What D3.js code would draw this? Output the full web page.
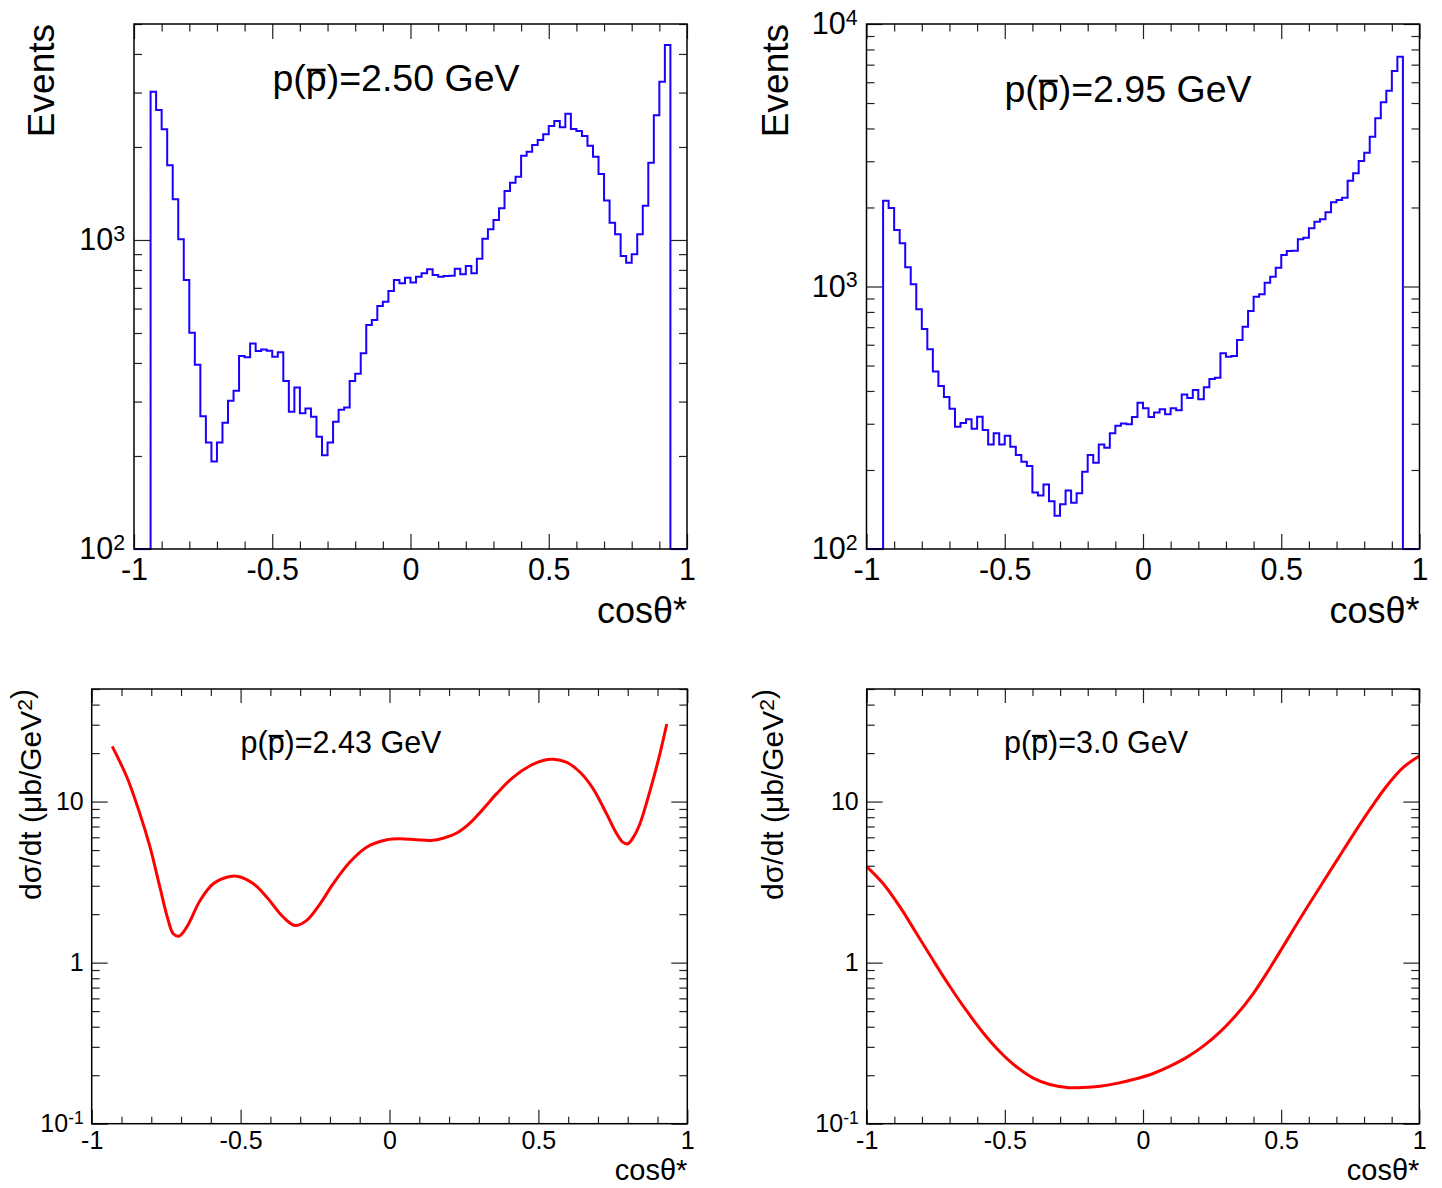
<!DOCTYPE html>
<html>
<head>
<meta charset="utf-8">
<script src="https://cdn.jsdelivr.net/npm/d3@7"></script>
<style>
  body { margin: 0; background: #fff; }
  svg text { font-family: "Liberation Sans", Arial, Helvetica, sans-serif; fill: #000; }
</style>
</head>
<body>
<svg id="chart" width="1442" height="1188"></svg>
<script>
// histogram binning used by both event plots
const nBins = 100;
const binRange = [-1, 1];

// events per bin, p = 2.50 GeV (bins -1 .. 1, step 0.02)
const counts250 = [
  0, 0, 0,
  3020, 2634, 2282, 1744, 1354, 1005, 742, 501, 395, 269,
  221, 192, 221, 256, 302, 325, 421, 417, 462, 437,
  442, 438, 419, 433, 350, 278, 333, 275, 285, 268,
  231, 201, 221, 258, 282, 287, 350, 369, 430, 531,
  551, 611, 631, 684, 742, 724, 755, 728, 761, 780,
  804, 770, 761, 765, 766, 807, 774, 824, 780, 870,
  1010, 1083, 1161, 1267, 1441, 1532, 1603, 1874, 1931, 2030,
  2107, 2198, 2338, 2428, 2315, 2563, 2287, 2253, 2171, 2020,
  1860, 1635, 1341, 1138, 1043, 888, 844, 899, 1043, 1291,
  1779, 2533, 3253, 4276,
  0, 0, 0
];

// events per bin, p = 2.95 GeV
const counts295 = [
  0, 0, 0,
  2123, 1991, 1641, 1461, 1184, 1020, 819, 689, 577, 474,
  418, 379, 342, 292, 302, 312, 287, 319, 284, 250,
  276, 250, 270, 245, 228, 215, 207, 164, 160, 176,
  152, 134, 148, 167, 150, 163, 197, 228, 213, 250,
  243, 276, 295, 301, 299, 318, 361, 344, 318, 331,
  341, 326, 344, 338, 388, 376, 403, 372, 413, 444,
  449, 557, 540, 544, 626, 703, 807, 915, 934, 1034,
  1090, 1179, 1318, 1365, 1369, 1513, 1534, 1666, 1766, 1803,
  1917, 2094, 2136, 2179, 2530, 2699, 3007, 3234, 3721, 4373,
  5031, 5570, 6622, 7506,
  0, 0, 0
];

// d(sigma)/dt curves: [cos theta*, value in mub/GeV^2]
const xsec243 = [
  [-0.931, 22.0], [-0.882, 14.2], [-0.838, 8.39], [-0.804, 5.21], [-0.771, 2.94],
  [-0.743, 1.83], [-0.726, 1.51], [-0.707, 1.46], [-0.681, 1.66], [-0.636, 2.43],
  [-0.592, 3.09], [-0.536, 3.43], [-0.508, 3.43], [-0.457, 3.09], [-0.412, 2.55],
  [-0.357, 1.92], [-0.317, 1.70], [-0.278, 1.83], [-0.233, 2.32], [-0.189, 3.09],
  [-0.133, 4.21], [-0.077, 5.21], [-0.009, 5.79], [0.035, 5.88], [0.09, 5.79],
  [0.14, 5.74], [0.18, 5.92], [0.226, 6.38], [0.270, 7.35], [0.315, 9.01],
  [0.360, 11.2], [0.416, 14.2], [0.472, 16.7], [0.516, 18.0], [0.550, 18.3],
  [0.595, 17.5], [0.640, 15.2], [0.684, 12.0], [0.729, 8.39], [0.763, 6.31],
  [0.783, 5.60], [0.800, 5.47], [0.819, 6.01], [0.841, 7.28], [0.875, 11.7],
  [0.908, 19.8], [0.931, 30.3]
];

const xsec300 = [
  [-1.0, 3.95], [-0.940, 3.09], [-0.879, 2.21], [-0.819, 1.51], [-0.759, 1.03],
  [-0.699, 0.711], [-0.638, 0.501], [-0.578, 0.366], [-0.518, 0.280], [-0.457, 0.225],
  [-0.397, 0.192], [-0.337, 0.175], [-0.276, 0.168], [-0.216, 0.168], [-0.156, 0.171],
  [-0.095, 0.178], [-0.035, 0.188], [0.037, 0.205], [0.098, 0.2275], [0.158, 0.258],
  [0.218, 0.303], [0.279, 0.372], [0.339, 0.476], [0.399, 0.643], [0.460, 0.93],
  [0.520, 1.37], [0.580, 2.02], [0.641, 2.96], [0.701, 4.30], [0.761, 6.24],
  [0.822, 8.97], [0.882, 12.5], [0.942, 16.3], [1.0, 19.2]
];

const xTicksMajor = [-1, -0.5, 0, 0.5, 1];
const xTicksMinor = [-0.9, -0.8, -0.7, -0.6, -0.4, -0.3, -0.2, -0.1, 0.1, 0.2, 0.3, 0.4, 0.6, 0.7, 0.8, 0.9];

const svg = d3.select("#chart");

function logTicks(domain) {
  const major = [], minor = [];
  const k0 = Math.floor(Math.log10(domain[0]) + 1e-9);
  const k1 = Math.ceil(Math.log10(domain[1]) - 1e-9);
  for (let k = k0; k <= k1; k++) {
    const dec = Math.pow(10, k);
    if (dec >= domain[0] * 0.999 && dec <= domain[1] * 1.001) major.push(dec);
    for (let m = 2; m <= 9; m++) {
      const v = m * dec;
      if (v > domain[0] && v < domain[1] * 1.001) minor.push(v);
    }
  }
  return { major, minor };
}

// "p(p)=..." with a bar over the second p
function overlineTitle(g, x, y, size, rest) {
  const t = g.append("text")
    .attr("x", x).attr("y", y)
    .attr("text-anchor", "middle")
    .attr("font-size", size)
    .text("p(p" + rest);
  const e = t.node().getExtentOfChar(2);
  g.append("line")
    .attr("x1", e.x + 1).attr("x2", e.x + e.width - 1)
    .attr("y1", y - 0.56 * size).attr("y2", y - 0.56 * size)
    .attr("stroke", "#000").attr("stroke-width", 0.07 * size);
}

function drawPanel(p) {
  const g = svg.append("g");
  const x = d3.scaleLinear().domain(binRange).range([p.x0, p.x1]);
  const y = d3.scaleLog().domain(p.yDomain).range([p.y1, p.y0]);
  const yt = logTicks(p.yDomain);

  // x axes, bottom with labels and top mirror
  g.append("g").attr("transform", `translate(0,${p.y1})`)
    .call(d3.axisBottom(x).tickValues(xTicksMajor).tickSize(-p.tx).tickPadding(p.xPad)
      .tickFormat(d => String(d)))
    .attr("font-size", p.tickFont).attr("font-family", null)
    .call(a => a.select(".domain").remove());
  g.append("g").attr("transform", `translate(0,${p.y1})`)
    .call(d3.axisBottom(x).tickValues(xTicksMinor).tickSize(-p.tx / 2).tickFormat(""))
    .call(a => a.select(".domain").remove());
  g.append("g").attr("transform", `translate(0,${p.y0})`)
    .call(d3.axisTop(x).tickValues(xTicksMajor).tickSize(-p.tx).tickFormat(""))
    .call(a => a.select(".domain").remove());
  g.append("g").attr("transform", `translate(0,${p.y0})`)
    .call(d3.axisTop(x).tickValues(xTicksMinor).tickSize(-p.tx / 2).tickFormat(""))
    .call(a => a.select(".domain").remove());

  // y axes, left with labels and right mirror
  const yl = g.append("g").attr("transform", `translate(${p.x0},0)`)
    .call(d3.axisLeft(y).tickValues(yt.major).tickSize(-p.ty).tickPadding(p.yPad))
    .attr("font-size", p.tickFont).attr("font-family", null)
    .call(a => a.select(".domain").remove());
  yl.selectAll(".tick text").each(function (d) {
    const t = d3.select(this).text(null);
    const [base, sup] = p.yFormat(d);
    t.append("tspan").text(base);
    if (sup) t.append("tspan").attr("dy", "-0.45em").attr("font-size", "0.7em").text(sup);
  });
  g.append("g").attr("transform", `translate(${p.x0},0)`)
    .call(d3.axisLeft(y).tickValues(yt.minor).tickSize(-p.ty / 2).tickFormat(""))
    .call(a => a.select(".domain").remove());
  g.append("g").attr("transform", `translate(${p.x1},0)`)
    .call(d3.axisRight(y).tickValues(yt.major).tickSize(-p.ty).tickFormat(""))
    .call(a => a.select(".domain").remove());
  g.append("g").attr("transform", `translate(${p.x1},0)`)
    .call(d3.axisRight(y).tickValues(yt.minor).tickSize(-p.ty / 2).tickFormat(""))
    .call(a => a.select(".domain").remove());

  g.selectAll(".tick line").attr("stroke", "#222").attr("stroke-width", 1.2);

  // data
  if (p.counts) {
    const binW = (binRange[1] - binRange[0]) / nBins;
    const pts = [];
    p.counts.forEach((c, i) => {
      const lo = binRange[0] + i * binW;
      pts.push([lo, c], [lo + binW, c]);
    });
    const floor = p.yDomain[0];
    g.append("path")
      .datum(pts)
      .attr("fill", "none")
      .attr("stroke", "#1a00ff")
      .attr("stroke-width", 2)
      .attr("d", d3.line().x(d => x(d[0])).y(d => y(Math.max(d[1], floor))));
  }
  if (p.curve) {
    g.append("path")
      .datum(p.curve)
      .attr("fill", "none")
      .attr("stroke", "#ff0000")
      .attr("stroke-width", 3)
      .attr("d", d3.line().x(d => x(d[0])).y(d => y(d[1])).curve(d3.curveCatmullRom));
  }

  // frame
  g.append("rect")
    .attr("x", p.x0).attr("y", p.y0)
    .attr("width", p.x1 - p.x0).attr("height", p.y1 - p.y0)
    .attr("fill", "none").attr("stroke", "#000").attr("stroke-width", 1.5);

  // titles
  overlineTitle(g, p.titleX, p.titleY, p.titleSize, p.title);

  g.append("text")
    .attr("x", p.x1).attr("y", p.xLabelY)
    .attr("text-anchor", "end")
    .attr("font-size", p.xLabelSize)
    .text("cos\u03b8*");

  const yLab = g.append("text")
    .attr("transform", `translate(${p.yLabelX},${p.y0}) rotate(-90)`)
    .attr("text-anchor", "end")
    .attr("font-size", p.yLabelSize);
  p.yLabel.forEach(([s, sup]) => {
    if (sup) {
      yLab.append("tspan").attr("dy", "-0.42em").attr("font-size", "0.7em").text(s);
      yLab.append("tspan").attr("dy", "0.42em").text("");
    } else {
      yLab.append("tspan").text(s);
    }
  });
}

const decadeFmt = d => ["10", String(Math.round(Math.log10(d)))];
const smallFmt = d => {
  if (d === 1) return ["1"];
  if (d === 10) return ["10"];
  return ["10", String(Math.round(Math.log10(d)))];
};

drawPanel({
  x0: 134, x1: 687, y0: 24, y1: 549, yDomain: [100, 5000],
  counts: counts250, tx: 15, ty: 16, tickFont: 30.5, xPad: 9, yPad: 9, yFormat: decadeFmt,
  title: ")=2.50 GeV", titleX: 396, titleY: 91, titleSize: 37.5,
  xLabelY: 623, xLabelSize: 36, yLabelX: 54, yLabelSize: 37, yLabel: [["Events"]]
});
drawPanel({
  x0: 866.5, x1: 1419.5, y0: 24, y1: 549, yDomain: [100, 10000],
  counts: counts295, tx: 15, ty: 16, tickFont: 30.5, xPad: 9, yPad: 9, yFormat: decadeFmt,
  title: ")=2.95 GeV", titleX: 1128, titleY: 102, titleSize: 37.5,
  xLabelY: 623, xLabelSize: 36, yLabelX: 788, yLabelSize: 37, yLabel: [["Events"]]
});
drawPanel({
  x0: 91.7, x1: 687.3, y0: 689, y1: 1123.7, yDomain: [0.1, 50],
  curve: xsec243, tx: 14, ty: 16, tickFont: 25, xPad: 8, yPad: 8, yFormat: smallFmt,
  title: ")=2.43 GeV", titleX: 341, titleY: 753, titleSize: 30.5,
  xLabelY: 1180, xLabelSize: 29, yLabelX: 41, yLabelSize: 30,
  yLabel: [["d\u03c3/dt (\u03bcb/GeV"], ["2", true], [")"]]
});
drawPanel({
  x0: 866.7, x1: 1419.3, y0: 689, y1: 1123.7, yDomain: [0.1, 50],
  curve: xsec300, tx: 14, ty: 16, tickFont: 25, xPad: 8, yPad: 8, yFormat: smallFmt,
  title: ")=3.0 GeV", titleX: 1096, titleY: 753, titleSize: 30.5,
  xLabelY: 1180, xLabelSize: 29, yLabelX: 783, yLabelSize: 30,
  yLabel: [["d\u03c3/dt (\u03bcb/GeV"], ["2", true], [")"]]
});
</script>
</body>
</html>
